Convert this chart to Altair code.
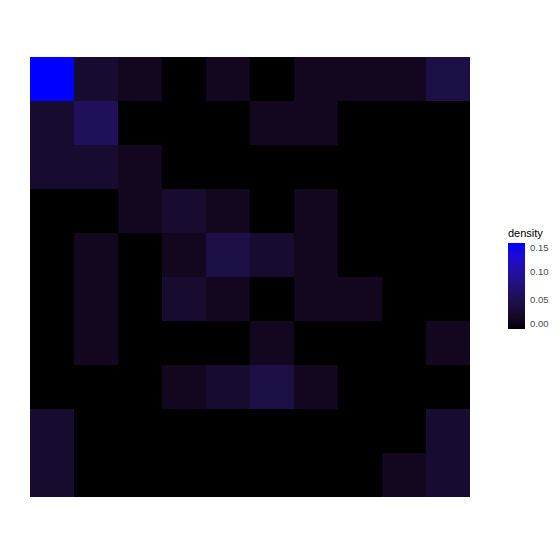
import altair as alt
import pandas as pd

# density grid, rows top (1) to bottom (10), columns left (1) to right (10)
a = 0.0167
b = 0.029
c = 0.044
d = 0.056
row01 = [0.15, b, a, 0, a, 0, a, a, a, c]
row02 = [b, d, 0, 0, 0, a, a, 0, 0, 0]
row03 = [b, b, a, 0, 0, 0, 0, 0, 0, 0]
row04 = [0, 0, a, b, a, 0, a, 0, 0, 0]
row05 = [0, a, 0, a, c, b, a, 0, 0, 0]
row06 = [0, a, 0, b, a, 0, a, a, 0, 0]
row07 = [0, a, 0, 0, 0, a, 0, 0, 0, a]
row08 = [0, 0, 0, a, b, c, a, 0, 0, 0]
row09 = [b, 0, 0, 0, 0, 0, 0, 0, 0, b]
row10 = [b, 0, 0, 0, 0, 0, 0, 0, a, b]
rows = [row01, row02, row03, row04, row05, row06, row07, row08, row09, row10]
legend_ticks = [0.0, 0.05, 0.10, 0.15]

records = []
for r, vals in enumerate(rows):
    for col, v in enumerate(vals):
        records.append({"col": col + 1, "row": r + 1, "density": v})
df = pd.DataFrame(records)

chart = alt.Chart(df).mark_rect(strokeWidth=0).encode(
    x=alt.X("col:O", axis=None, scale=alt.Scale(paddingInner=0, paddingOuter=0)),
    y=alt.Y("row:O", axis=None, scale=alt.Scale(paddingInner=0, paddingOuter=0)),
    fill=alt.Fill(
        "density:Q",
        scale=alt.Scale(range=["black", "blue"], interpolate="lab", domain=[0, 0.15]),
        legend=alt.Legend(
            title="density",
            orient="none",
            legendX=478,
            legendY=171,
            gradientLength=86,
            gradientThickness=17,
            values=legend_ticks,
            format=".2f",
            labelOverlap=False,
            labelFontSize=9.5,
            labelColor="#4d4d4d",
            labelFont="Liberation Sans",
            labelOffset=5,
            titleFont="Liberation Sans",
            titleFontSize=11,
            titleFontWeight="normal",
            titleColor="black",
            titlePadding=4,
        ),
    ),
).properties(
    width=440,
    height=440,
    padding={"left": 22, "top": 49, "right": 0, "bottom": 0},
).configure_view(stroke=None)

chart.save("out.html", embed_options={"renderer": "svg", "actions": False})
